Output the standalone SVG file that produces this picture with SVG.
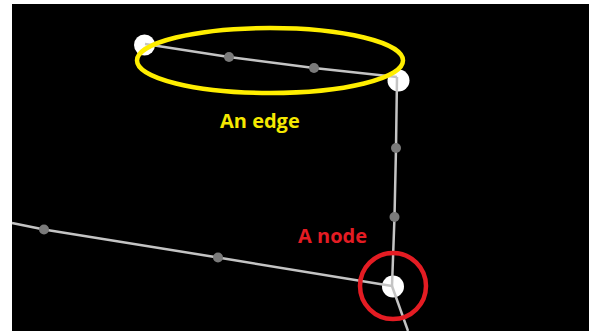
<svg xmlns="http://www.w3.org/2000/svg" width="589" height="331" viewBox="0 0 589 331">
<style>
.node{fill:#ffffff}
.edge{stroke:#c4c4c4;stroke-width:2.5;fill:none}
.pt{fill:#7a7a7a}
.lbl{font-family:"Open Sans","Liberation Sans",sans-serif;font-weight:bold;font-size:20px}
</style>
<rect x="0" y="0" width="589" height="331" fill="#ffffff"/>
<rect x="12" y="4" width="577" height="327" fill="#000000"/>
<g id="node1"><circle class="node" cx="144.5" cy="45" r="10.5"/></g>
<g id="node2"><circle class="node" cx="398.5" cy="80.5" r="11"/></g>
<g id="node3"><circle class="node" cx="393" cy="286.5" r="11"/></g>
<g id="connectors">
<polyline class="edge" points="145,44 229,57 314,68 397,77"/>
<polyline class="edge" points="397,77 396,148 394.5,217 392,286"/>
<polyline class="edge" points="12,223 44,229.5 218,257.5 392,286"/>
<line class="edge" x1="392" y1="286" x2="408" y2="331"/>
<circle class="pt" cx="229" cy="57" r="5"/>
<circle class="pt" cx="314" cy="68" r="5"/>
<circle class="pt" cx="396" cy="148" r="5"/>
<circle class="pt" cx="394.5" cy="217" r="5"/>
<circle class="pt" cx="44" cy="229.5" r="5"/>
<circle class="pt" cx="218" cy="257.5" r="5"/>
</g>
<ellipse cx="270" cy="60.5" rx="133" ry="32.5" fill="none" stroke="#ffee00" stroke-width="4.5"/>
<circle cx="393" cy="286" r="33" fill="none" stroke="#e41c23" stroke-width="4.5"/>
<text class="lbl" x="220" y="128" fill="#f5e800">An edge</text>
<text class="lbl" x="298" y="243" fill="#e41c23">A node</text>
</svg>
